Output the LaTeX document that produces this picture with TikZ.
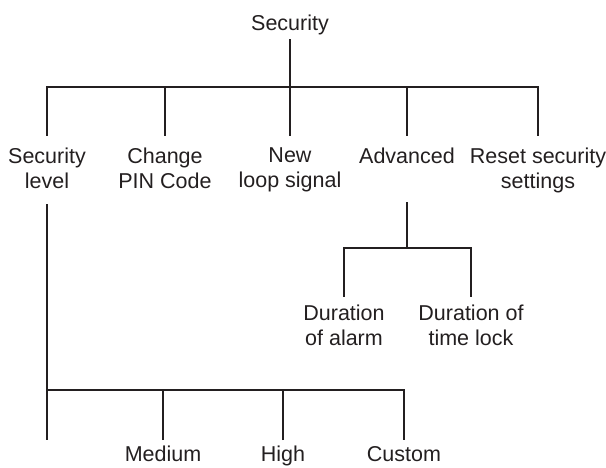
\documentclass[tikz,border=0pt]{standalone}
\usepackage{fontspec}
\setmainfont{Liberation Sans}
\usepackage{xcolor}
\usetikzlibrary{positioning, calc}
\definecolor{InkGray}{RGB}{35,31,32}
\tikzset{
  % Testo dei menu
  menu/.style={font=\fontsize{21.5}{25}\selectfont,text=InkGray,align=center,inner xsep=0pt,inner ysep=12pt,anchor=north},
  menu root/.style={menu,inner ysep=4pt},
  % Rami dell'albero
  branch/.style={InkGray,line width=2.8pt}
}
\begin{document}
\begin{tikzpicture}[x=1pt,y=-1pt]
        \useasboundingbox (0,0) rectangle (606,468);
        \node[menu root] (root) at (290,11) {Security};
        \coordinate (j0) at (290,87);
        \node[menu] (seclvl) at (47,136) {Security\\level};
        \node[menu] (chg) at (165,136) {Change\\PIN Code};
        \node[menu] (loop) at (290,136) {New\\loop signal};
        \node[menu] (adv) at (407,136) {Advanced};
        \node[menu] (reset) at (538,136) {Reset security\\settings};
        \coordinate (j1) at (407,248);
        \node[menu,inner ysep=8pt] (dur1) at (344,297) {Duration\\of alarm};
        \node[menu,inner ysep=8pt] (dur2) at (471,297) {Duration of\\time lock};
        \coordinate (j2) at (47,390);
        \coordinate (lowend) at (47,440);
        \node[menu,inner ysep=6pt] (med) at (163,440) {Medium};
        \node[menu,inner ysep=6pt] (high) at (283,440) {High};
        \node[menu,inner ysep=6pt] (cust) at (404,440) {Custom};
        % primo livello
        \draw[branch] (root.south) -- (j0);
        \draw[branch] (seclvl.north) |- (j0) -| (reset.north);
        \foreach \n in {chg,loop,adv}
          \draw[branch] (\n.north) -- (\n.north |- j0);
        % Advanced
        \draw[branch,shorten <=26pt] (adv.south) -- (j1);
        \draw[branch] (dur1.north) |- (j1) -| (dur2.north);
        % Security level
        \draw[branch,shorten <=3pt] (seclvl.south) -- (lowend);
        \draw[branch] (j2) -| (cust.north);
        \foreach \n in {med,high}
          \draw[branch] (\n.north) -- (\n.north |- j2);
      \end{tikzpicture}
\end{document}
